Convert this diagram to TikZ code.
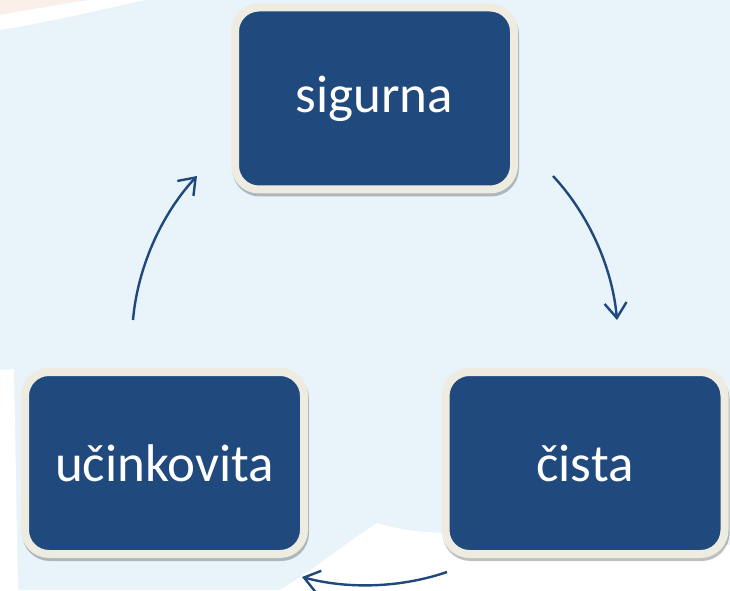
\documentclass[tikz,border=0pt]{standalone}
\usepackage{fontspec}
\setmainfont{Carlito}
\usetikzlibrary{arrows.meta,shadows}
\definecolor{bgblue}{RGB}{232,243,250}
\definecolor{boxblue}{RGB}{32,73,125}
\definecolor{boxrim}{RGB}{238,236,225}
\definecolor{arrowblue}{RGB}{31,73,125}
\definecolor{pinkbg}{RGB}{251,239,234}
\begin{document}
\begin{tikzpicture}[x=1pt,y=1pt,
  cyclebox/.style={rectangle, rounded corners=24pt, fill=boxblue, draw=boxrim,
    line width=8pt, minimum width=279pt, minimum height=182pt, text=white,
    font=\fontsize{53}{60}\selectfont, inner sep=0pt,
    general shadow={fill=black, draw=black, line width=8pt, shadow xshift=1pt,
      shadow yshift=-3pt, opacity=0.25}},
  cyclearrow/.style={draw=arrowblue, line width=2.4pt,
    -{Straight Barb[length=15pt,width=22pt,line width=2.4pt]}}]
\fill[bgblue] (0,0) rectangle (730,590);
\useasboundingbox (0,0) rectangle (730,590);
% background decorations
\fill[pinkbg] (0,590) -- (0,575) .. controls (30,580) and (60,586) .. (90,590) -- cycle;
\fill[white] (0,575) .. controls (30,580) and (60,586) .. (90,590) -- (145,590)
  .. controls (100,580) and (40,566) .. (0,560) -- cycle;
\fill[white] (280,0) .. controls (320,25) and (350,50) .. (377,67)
  .. controls (400,60) and (420,58) .. (445,57) -- (730,45) -- (730,0) -- cycle;
\fill[white] (0,0) -- (0,220) -- (14,221) -- (18,0) -- cycle;
% boxes
\node[cyclebox] (top) at (374.5,491.5) {sigurna};
\node[cyclebox] (left) at (164.5,127) {učinkovita};
\node[cyclebox] (right) at (585,127) {čista};
% arrow ends
\coordinate (a1s) at (553,414); \coordinate (a1e) at (617,270);
\coordinate (a2s) at (447,18);  \coordinate (a2e) at (302,13);
\coordinate (a3s) at (133,270); \coordinate (a3e) at (197,414);
\draw[cyclearrow] (a1s) to[bend left=19, looseness=0.85] (a1e);
\draw[cyclearrow] (a2s) to[bend left=17, looseness=0.85] (a2e);
\draw[cyclearrow] (a3s) to[bend left=19, looseness=0.85] (a3e);
\end{tikzpicture}
\end{document}
